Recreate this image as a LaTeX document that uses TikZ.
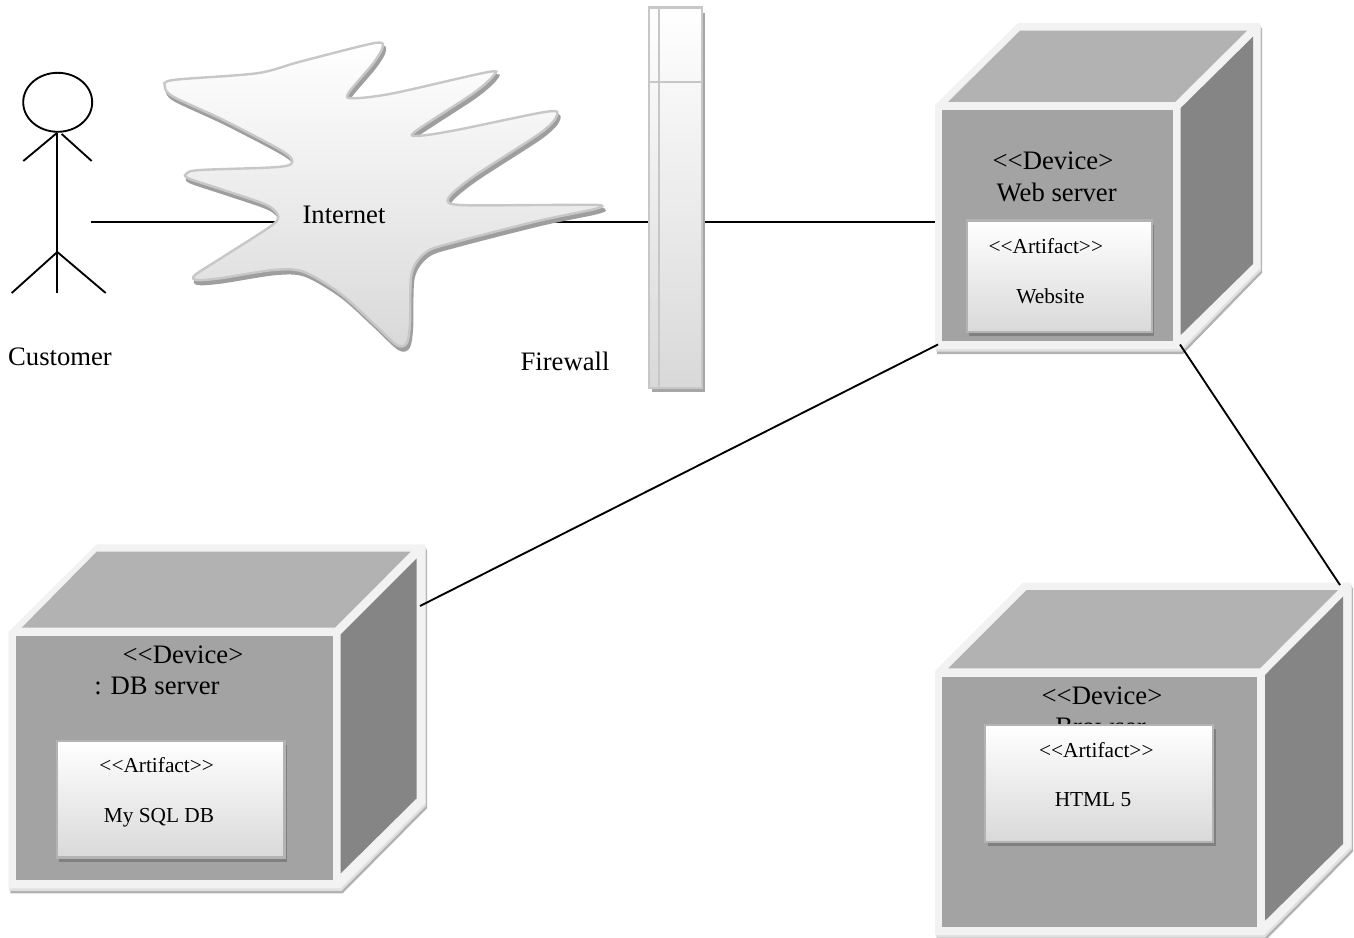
\documentclass[tikz,border=0pt]{standalone}
\usepackage{fontspec}
\setmainfont{Liberation Serif}
\usepackage{tikz}
\usetikzlibrary{shadows}
\definecolor{bandgrey}{rgb}{0.95,0.95,0.95}
\definecolor{topgrey}{rgb}{0.70,0.70,0.70}
\definecolor{frontgrey}{rgb}{0.64,0.64,0.64}
\definecolor{sidegrey}{rgb}{0.52,0.52,0.52}
\definecolor{edgegrey}{rgb}{0.78,0.78,0.78}
\definecolor{lowgrey}{rgb}{0.85,0.85,0.85}
\tikzset{
  wire/.style={line width=1.4pt,black},
  cubeshadow/.style={fill=black!30,shift={(2,5)}},
  cubegap/.style={fill=black!12,shift={(1,2.5)}},
  cubeband/.style={fill=bandgrey},
  cubetop/.style={fill=topgrey},
  cubefront/.style={fill=frontgrey},
  cubeside/.style={fill=sidegrey},
  devicetext/.style={anchor=base,inner sep=0pt,font=\fontsize{20}{24}\selectfont},
  artifacttext/.style={anchor=base,inner sep=0pt,font=\fontsize{16}{19}\selectfont},
  artifactbox/.style={rectangle,draw=edgegrey!90!black,line width=1.8pt,inner sep=0pt,
    top color=white,bottom color=lowgrey,
    drop shadow={shadow xshift=2pt,shadow yshift=-3pt,fill=black!50,opacity=1}},
  cloudbody/.style={draw=edgegrey,line width=1.8pt,top color=white,bottom color=lowgrey},
  cloudshadow/.style={fill=black!38,draw=black!38,line width=1.8pt,shift={(2,4)}},
}
\def\cloudpath{plot[smooth cycle,tension=0.5] coordinates {
  (165,86.7) (173.3,80) (256.7,73.3) (300,61.7) (373.3,43.3) (382.7,46.7)
  (373.3,63.3) (348.3,93.3) (353.3,98.3) (393.3,93.3) (486.7,72.3) (494,75)
  (473.3,93.3) (415,131.7) (420,135.7) (456.7,130) (546.7,111.7) (556.7,116)
  (540,133.3) (473.3,176.7) (448.3,198.3) (460,205) (540,205) (598,205)
  (595,209) (540,220.5) (456.7,241.7) (426.7,251.7) (411.7,273.3) (410,323.3)
  (406.7,343.3) (396.7,345) (373.3,323.3) (340,293.3) (303.3,271.7) (273.3,270)
  (220,278.3) (196.7,280) (195,275) (223.3,256.7) (270,226.7) (278.3,216.7)
  (266.7,205) (223.3,190) (188.3,178.3) (186.7,173.3) (200,170) (273.3,167.3)
  (291.7,163.3) (283.3,151.7) (223.3,120) (173.3,96.7)}}
\begin{document}
\begin{tikzpicture}[x=0.75pt,y=-0.75pt]
\useasboundingbox (0,0) rectangle (1354,938);
\coordinate (customerhand) at (90.7,222.3);
\coordinate (internetwest) at (278,222.3);
\coordinate (interneteast) at (540,222.3);
\coordinate (firewallwest) at (648,222.3);
\coordinate (firewalleast) at (703,222.3);
\coordinate (webwest) at (935,222.3);
\coordinate (websouthwest) at (938,344.5);
\coordinate (websoutheast) at (1180,344.5);
\coordinate (dbeast) at (420,606);
\coordinate (browsernorth) at (1340,585);
\draw [wire] (customerhand) -- (internetwest);
\draw [wire] (interneteast) -- (firewallwest);
\draw [wire] (firewalleast) -- (webwest);
\draw [wire] (57.7,102.3) ellipse (34.5 and 29.5);
\draw [wire] (57.3,132.7) -- (57.3,293);
\draw [wire] (23.3,161) -- (57.3,132.7);
\draw [wire] (61.7,134) -- (91.7,161);
\draw [wire] (11.7,293) -- (57.3,252) -- (105.7,293);
\node [devicetext] (customer) at (60,365) {Customer};
\path [cloudshadow] \cloudpath;
\path [cloudbody] \cloudpath;
\node [devicetext] (internet) at (344,223.7) {Internet};
\fill [black!35] (651.7,13) rectangle (704.5,392.3);
\node [devicetext] (firewalltext) at (565,370.7) {Firewall};
\shade [top color=white,bottom color=lowgrey,draw=edgegrey,line width=1.8pt] (648.7,7.7) rectangle (701.7,388);
\draw [edgegrey,line width=1.8pt] (659,7.7) -- (659,388);
\draw [edgegrey,line width=1.8pt] (648.7,82) -- (701.7,82);
\fill [cubeshadow] (935,105) -- (1018,23) -- (1260,23) -- (1260,268) -- (1181,349) -- (935,349) -- cycle;
\fill [cubegap] (935,105) -- (1018,23) -- (1260,23) -- (1260,268) -- (1181,349) -- (935,349) -- cycle;
\fill [cubeband] (935,105) -- (1018,23) -- (1260,23) -- (1260,268) -- (1181,349) -- (935,349) -- cycle;
\fill [cubetop] (948,102) -- (1020,30.7) -- (1247,30.7) -- (1175,102) -- cycle;
\fill [cubefront] (941.7,110) rectangle (1173,340.7);
\fill [cubeside] (1180.7,108) -- (1253,36.7) -- (1253,264) -- (1180.7,335) -- cycle;
\node [devicetext] (webdevice) at (1053,170) {<{}<Device>};
\node [devicetext] (webname) at (1056.7,201.7) {Web server};
\node [artifactbox,minimum width=138.75pt,minimum height=83.25pt] (webartifact) at (1059.2,276.2) {};
\node [artifacttext] (webstereo) at (1045.8,253) {<{}<Artifact>{}>};
\node [artifacttext] (webname2) at (1050.5,303) {Website};
\fill [cubeshadow] (8.3,632) -- (96.7,544.3) -- (425,544.3) -- (425,803.3) -- (340.7,888.3) -- (8.3,888.3) -- cycle;
\fill [cubegap] (8.3,632) -- (96.7,544.3) -- (425,544.3) -- (425,803.3) -- (340.7,888.3) -- (8.3,888.3) -- cycle;
\fill [cubeband] (8.3,632) -- (96.7,544.3) -- (425,544.3) -- (425,803.3) -- (340.7,888.3) -- (8.3,888.3) -- cycle;
\fill [cubetop] (21.7,627.7) -- (96.7,551.7) -- (410.7,551.7) -- (335,627.7) -- cycle;
\fill [cubefront] (16,636) rectangle (332.7,880);
\fill [cubeside] (340.7,634.3) -- (416.7,558.3) -- (416.7,798.3) -- (340.7,873.3) -- cycle;
\node [devicetext] (dbdevice) at (183,663.7) {<{}<Device>};
\node [devicetext] (dbname) at (157,694) {: DB server};
\node [artifactbox,minimum width=170.7pt,minimum height=87.5pt] (dbartifact) at (170.5,799.3) {};
\node [artifacttext] (dbstereo) at (156.7,772.7) {<{}<Artifact>{}>};
\node [artifacttext] (dbname2) at (159,822.7) {My SQL DB};
\fill [cubeshadow] (935,671) -- (1023,582.7) -- (1351,582.7) -- (1351,846.7) -- (1264,935) -- (935,935) -- cycle;
\fill [cubegap] (935,671) -- (1023,582.7) -- (1351,582.7) -- (1351,846.7) -- (1264,935) -- (935,935) -- cycle;
\fill [cubeband] (935,671) -- (1023,582.7) -- (1351,582.7) -- (1351,846.7) -- (1264,935) -- (935,935) -- cycle;
\fill [cubetop] (948.3,668.3) -- (1026.7,590) -- (1338,590) -- (1260,668.3) -- cycle;
\fill [cubefront] (942.3,676.7) rectangle (1256.7,927.3);
\fill [cubeside] (1265,675) -- (1343,596.7) -- (1343,844) -- (1265,920.7) -- cycle;
\node [devicetext] (browserdevice) at (1102,704) {<{}<Device>};
\node [devicetext] (browsername) at (1100.5,735.5) {Browser};
\node [artifactbox,minimum width=171pt,minimum height=87.75pt] (browserartifact) at (1099,783.5) {};
\node [artifacttext] (browserstereo) at (1096.3,757.7) {<{}<Artifact>{}>};
\node [artifacttext] (browsername2) at (1093,806) {HTML 5};
\draw [wire] (websouthwest) -- (dbeast);
\draw [wire] (websoutheast) -- (browsernorth);
\end{tikzpicture}
\end{document}
